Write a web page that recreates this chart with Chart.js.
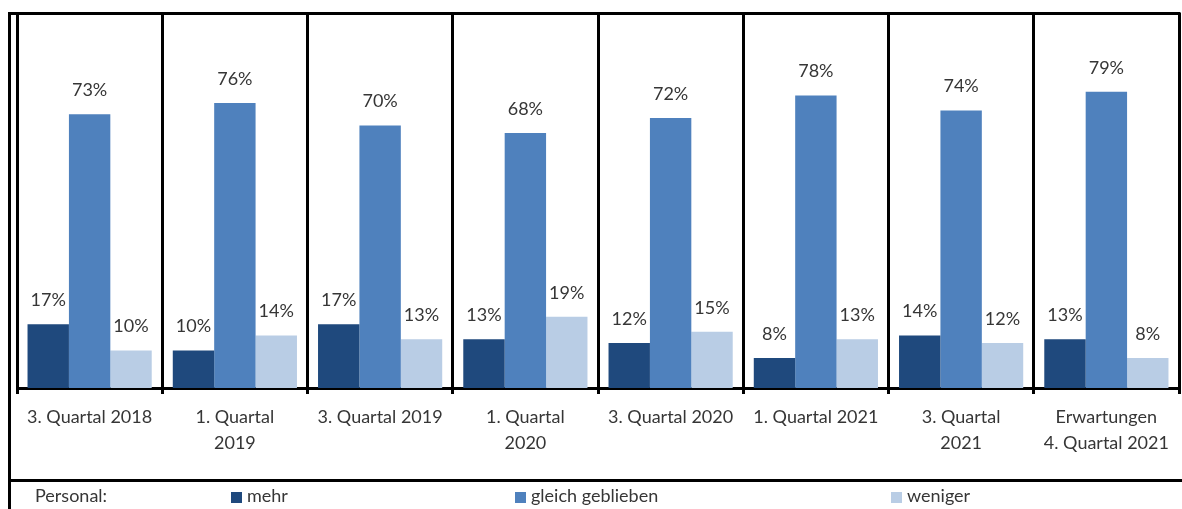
<!DOCTYPE html>
<html>
<head>
<meta charset="utf-8">
<script src="https://cdn.jsdelivr.net/npm/chart.js@4.4.1/dist/chart.umd.min.js"></script>
<style>
  html, body { margin: 0; padding: 0; background: #fff; }
  #wrap { width: 1182px; height: 509px; position: relative; }
</style>
</head>
<body>
<div id="wrap"><canvas id="chart"></canvas></div>
<script>
// --- chart data ---
const categories = [
    ['3. Quartal 2018'],
    ['1. Quartal', '2019'],
    ['3. Quartal 2019'],
    ['1. Quartal', '2020'],
    ['3. Quartal 2020'],
    ['1. Quartal 2021'],
    ['3. Quartal', '2021'],
    ['Erwartungen', '4. Quartal 2021']
];
const seriesNames = ['mehr', 'gleich geblieben', 'weniger'];
const mehr = [17, 10, 17, 13, 12, 8, 14, 13];
const gleich = [73, 76, 70, 68, 72, 78, 74, 79];
const weniger = [10, 14, 13, 19, 15, 13, 12, 8];
const legendTitle = 'Personal:';

const colors = ['#1F497D', '#4F81BD', '#B9CDE5'];
const fontFamily = 'Lato, "Noto Sans", sans-serif';
const textColor = '#363636';

// frame, value labels and legend row
const framePlugin = {
    id: 'frame',
    afterDraw(chart) {
        const ctx = chart.ctx;
        const area = chart.chartArea;
        ctx.save();

        // value labels above bars
        ctx.font = '18px ' + fontFamily;
        ctx.fillStyle = textColor;
        ctx.textAlign = 'center';
        ctx.textBaseline = 'middle';
        chart.data.datasets.forEach((ds, i) => {
            chart.getDatasetMeta(i).data.forEach((bar, j) => {
                ctx.fillText(ds.data[j] + '%', bar.x, bar.y - 24);
            });
        });

        // outer frame lines
        ctx.strokeStyle = '#000';
        ctx.lineWidth = 3;
        ctx.beginPath();
        ctx.moveTo(8, 13.5);
        ctx.lineTo(area.right + 1.5, 13.5);
        ctx.moveTo(9.5, 12);
        ctx.lineTo(9.5, 509);
        ctx.moveTo(8, 480.5);
        ctx.lineTo(1182, 480.5);
        ctx.stroke();

        // legend row
        ctx.textAlign = 'left';
        ctx.fillStyle = textColor;
        ctx.fillText(legendTitle, 35, 496);
        const legendX = [231, 515, 891];
        seriesNames.forEach((name, i) => {
            ctx.fillStyle = colors[i];
            ctx.fillRect(legendX[i], 492, 11, 11);
            ctx.fillStyle = textColor;
            ctx.fillText(name, legendX[i] + 16, 496);
        });
        ctx.restore();
    }
};

const ctx = document.getElementById('chart').getContext('2d');
new Chart(ctx, {
    type: 'bar',
    data: {
        labels: categories,
        datasets: [
            { label: seriesNames[0], data: mehr, backgroundColor: colors[0] },
            { label: seriesNames[1], data: gleich, backgroundColor: colors[1] },
            { label: seriesNames[2], data: weniger, backgroundColor: colors[2] }
        ]
    },
    options: {
        responsive: true,
        maintainAspectRatio: false,
        animation: false,
        layout: { padding: { left: 17, right: 3, top: 13, bottom: 0 } },
        datasets: { bar: { categoryPercentage: 0.855, barPercentage: 1.0 } },
        plugins: {
            legend: { display: false },
            tooltip: { enabled: false }
        },
        scales: {
            x: {
                grid: {
                    offset: true,
                    color: '#000',
                    lineWidth: 3,
                    tickLength: 6,
                    drawOnChartArea: true
                },
                border: { display: true, color: '#000', width: 3 },
                ticks: {
                    color: textColor,
                    font: { family: fontFamily, size: 18, lineHeight: 1.45 },
                    padding: 10,
                    maxRotation: 0,
                    autoSkip: false
                },
                afterFit(scale) { scale.height = 121; }
            },
            y: {
                display: false,
                min: 0,
                max: 100
            }
        }
    },
    plugins: [framePlugin]
});
</script>
</body>
</html>
